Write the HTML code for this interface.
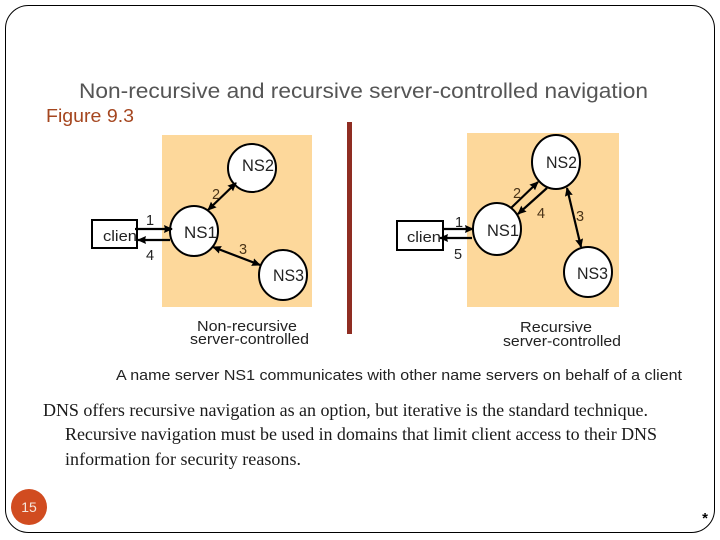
<!DOCTYPE html>
<html><head><meta charset="utf-8"><style>
html,body{margin:0;padding:0;background:#fff}
svg{display:block}
text{font-family:"Liberation Sans",sans-serif}
.s{font-family:"Liberation Serif",serif;fill:#1a1a1a}
</style></head><body>
<svg width="720" height="540" viewBox="0 0 720 540" xmlns="http://www.w3.org/2000/svg">
<defs>
<marker id="a" markerWidth="12" markerHeight="10" refX="8" refY="4" orient="auto-start-reverse" markerUnits="userSpaceOnUse"><path d="M0 0L9 4L0 8L1 4Z" fill="#000"/></marker>
</defs>
<rect x="0" y="0" width="720" height="540" fill="#fff"/>
<rect x="5.5" y="5.5" width="709" height="527" rx="23" fill="none" stroke="#000" stroke-width="1"/>
<text x="79" y="98" font-size="21" fill="#555" textLength="569" lengthAdjust="spacingAndGlyphs">Non-recursive and recursive server-controlled navigation</text>
<text x="46" y="122" font-size="18" fill="#a5461f" textLength="88" lengthAdjust="spacingAndGlyphs">Figure 9.3</text>
<rect x="162" y="135" width="150" height="172" fill="#fdd89b"/>
<rect x="467" y="133" width="152" height="174" fill="#fdd89b"/>
<rect x="347" y="122" width="5" height="212" fill="#8f2d22"/>

<g fill="#fff" stroke="#000" stroke-width="2">
<rect x="92" y="220" width="45" height="28"/>
<ellipse cx="252" cy="168" rx="24" ry="24"/>
<ellipse cx="194" cy="231" rx="24" ry="25"/>
<ellipse cx="283" cy="275" rx="24" ry="25"/>
<rect x="397" y="221" width="46" height="29"/>
<ellipse cx="556" cy="162" rx="24" ry="27"/>
<ellipse cx="497" cy="229" rx="24" ry="26"/>
<ellipse cx="588" cy="272" rx="24" ry="25"/>
</g>
<g font-size="15" fill="#222">
<text x="103" y="241" textLength="34" lengthAdjust="spacingAndGlyphs">clien</text>
<text x="407" y="242" textLength="34" lengthAdjust="spacingAndGlyphs">clien</text>
</g>

<g stroke="#000" stroke-width="2.2" fill="none">
<path d="M135 229H172" marker-end="url(#a)"/>
<path d="M170 240H138" marker-end="url(#a)"/>
<path d="M208 210L236 183" marker-start="url(#a)" marker-end="url(#a)"/>
<path d="M213 247L260 265" marker-start="url(#a)" marker-end="url(#a)"/>
<path d="M442 229H473" marker-end="url(#a)"/>
<path d="M472 238H440" marker-end="url(#a)"/>
<path d="M511 208L538 182" marker-end="url(#a)"/>
<path d="M547 188L518 214" marker-end="url(#a)"/>
<path d="M567 188L581 247" marker-start="url(#a)" marker-end="url(#a)"/>
</g>

<g font-size="16.5" fill="#222">
<text x="242" y="171" textLength="32" lengthAdjust="spacingAndGlyphs">NS2</text>
<text x="184" y="238" textLength="33" lengthAdjust="spacingAndGlyphs">NS1</text>
<text x="273" y="281" textLength="31" lengthAdjust="spacingAndGlyphs">NS3</text>
<text x="546" y="168" textLength="31" lengthAdjust="spacingAndGlyphs">NS2</text>
<text x="487" y="236" textLength="32" lengthAdjust="spacingAndGlyphs">NS1</text>
<text x="577" y="279" textLength="31" lengthAdjust="spacingAndGlyphs">NS3</text>
</g>
<g font-size="14.5" fill="#222">
<text x="146" y="225">1</text>
<text x="146" y="260">4</text>
<text x="212" y="199" fill="#4a3418">2</text>
<text x="239" y="254" fill="#4a3418">3</text>
<text x="455" y="227">1</text>
<text x="454" y="259">5</text>
<text x="513" y="198" fill="#4a3418">2</text>
<text x="537" y="218" fill="#4a3418">4</text>
<text x="576" y="221" fill="#4a3418">3</text>
</g>
<g font-size="15" fill="#222">
<text x="197" y="331" textLength="100" lengthAdjust="spacingAndGlyphs">Non-recursive</text>
<text x="190" y="344" textLength="119" lengthAdjust="spacingAndGlyphs">server-controlled</text>
<text x="520" y="332" textLength="72" lengthAdjust="spacingAndGlyphs">Recursive</text>
<text x="503" y="346" textLength="118" lengthAdjust="spacingAndGlyphs">server-controlled</text>
</g>
<text x="116" y="380" font-size="14.5" fill="#222" textLength="566" lengthAdjust="spacingAndGlyphs">A name server NS1 communicates with other name servers on behalf of a client</text>
<text class="s" x="43" y="416" font-size="18" textLength="605" lengthAdjust="spacing">DNS offers recursive navigation as an option, but iterative is the standard technique.</text>
<text class="s" x="65" y="440" font-size="18" textLength="592" lengthAdjust="spacing">Recursive navigation must be used in domains that limit client access to their DNS</text>
<text class="s" x="65" y="465" font-size="18" textLength="236" lengthAdjust="spacing">information for security reasons.</text>
<circle cx="29" cy="507" r="18" fill="#d14c20"/>
<text x="29" y="512" font-size="14" fill="#f5e6dc" text-anchor="middle">15</text>
<text x="705" y="523" font-size="15" font-weight="bold" fill="#000" text-anchor="middle">*</text>
</svg>
</body></html>
